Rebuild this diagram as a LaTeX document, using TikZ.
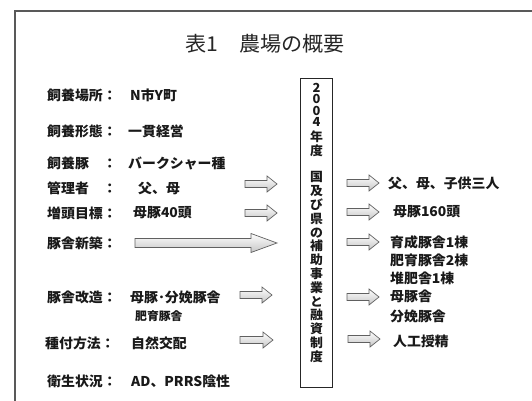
\documentclass[tikz,border=0pt]{standalone}
\usepackage{fontspec}
\setmainfont{Noto Sans CJK JP}[FakeStretch=1.03]
\begin{document}
\begin{tikzpicture}[x=1pt,y=-1pt,
  lbl/.style={anchor=west, inner sep=0pt, text=black!90, font=\fontsize{13.5}{16}\selectfont\bfseries},
  sml/.style={anchor=west, inner sep=0pt, text=black!90, font=\fontsize{11.5}{14}\selectfont\bfseries},
  arr/.style={draw=gray!75!black, line width=0.7pt, top color=white, bottom color=gray!45, line join=miter},
  frame/.style={draw=gray!70!black, line width=1.6pt}
]
\useasboundingbox (0,0) rectangle (532,401);
\newcommand{\barrow}[6]{%
  \path[arr] (#1,#2-#5) -- (#1+#3-#4,#2-#5) -- (#1+#3-#4,#2-#6) -- (#1+#3,#2)
    -- (#1+#3-#4,#2+#6) -- (#1+#3-#4,#2+#5) -- (#1,#2+#5) -- cycle;}
% frame
\coordinate (ftr) at (532,11);
\coordinate (ftl) at (15,11);
\coordinate (fbl) at (15,401);
\draw[frame] (ftr) -- (ftl) -- (fbl);
% title
\node[inner sep=0pt, text=black!85, font=\fontsize{20.5}{24}\selectfont] (title) at (265,44) {表1　農場の概要};
% left labels
\node[lbl] (l1) at (47,95) {飼養場所：};
\node[lbl] (v1) at (130,95) {N市Y町};
\node[lbl] (l2) at (47,131) {飼養形態：};
\node[lbl] (v2) at (128,131) {一貫経営};
\node[lbl] (l3) at (47,163) {飼養豚　：};
\node[lbl] (v3) at (128,163) {バークシャー種};
\node[lbl] (l4) at (47,188) {管理者　：};
\node[lbl] (v4) at (138,188) {父、母};
\node[lbl] (l5) at (47,213) {増頭目標：};
\node[lbl] (v5) at (133,213) {母豚40頭};
\node[lbl] (l6) at (47,243) {豚舎新築：};
\node[lbl] (l7) at (47,297) {豚舎改造：};
\node[lbl] (v7) at (130,297) {母豚･分娩豚舎};
\node[sml] (v7b) at (135,316) {肥育豚舎};
\node[lbl] (l8) at (45,343) {種付方法：};
\node[lbl] (v8) at (131,343) {自然交配};
\node[lbl] (l9) at (47,381) {衛生状況：};
\node[lbl] (v9) at (131,381) {AD、PRRS陰性};
% left arrows
\barrow{245}{184}{32}{10}{3.5}{8}
\barrow{245}{213}{32}{10}{3.5}{8}
\barrow{135}{243}{142}{26}{4.5}{9.5}
\barrow{240}{295}{32}{10}{3.5}{8}
\barrow{240}{340}{33}{10}{3.5}{8}
% vertical box
\node[draw=black!85, line width=1.3pt, minimum width=32pt, minimum height=309pt, inner sep=0pt, anchor=north west] (box) at (300,78) {};
\node[anchor=north, inner sep=0pt, align=center, text=black!90, font=\fontsize{12.5}{13.8}\selectfont\bfseries] (vt) at ([yshift=-5pt]box.north)
  {2\\[-2.5pt]0\\[-2.5pt]0\\[-2.5pt]4\\[1.2pt]年\\度\\[13pt]国\\及\\び\\県\\の\\補\\助\\事\\業\\と\\融\\資\\制\\度};
% right arrows
\barrow{347}{183}{32}{10}{3.5}{8}
\barrow{347}{212}{32}{10}{3.5}{8}
\barrow{347}{242}{32}{10}{3.5}{8}
\barrow{347}{297}{32}{10}{3.5}{8}
\barrow{348}{339}{32}{10}{3.5}{8}
% right texts
\node[lbl] (r1) at (388,183) {父、母、子供三人};
\node[lbl] (r2) at (393,212) {母豚160頭};
\node[lbl, align=left, font=\fontsize{13.5}{18}\selectfont\bfseries] (r3) at (390,260) {育成豚舎1棟\\肥育豚舎2棟\\堆肥舎1棟};
\node[lbl, align=left, font=\fontsize{13.5}{20}\selectfont\bfseries] (r4) at (390,306) {母豚舎\\分娩豚舎};
\node[lbl] (r5) at (393,341) {人工授精};
\end{tikzpicture}
\end{document}
